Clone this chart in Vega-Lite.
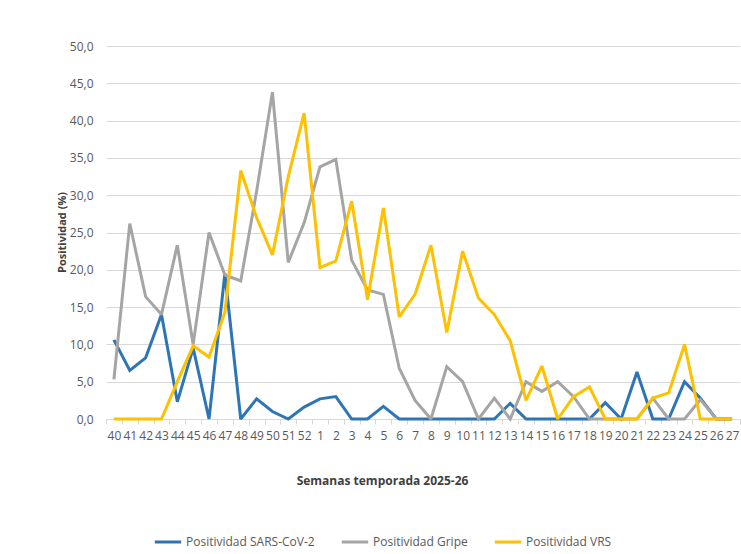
{
  "$schema": "https://vega.github.io/schema/vega-lite/v6.json",
  "width": 634,
  "height": 373,
  "autosize": {"type": "none"},
  "padding": {"left": 106, "top": 46, "right": 1, "bottom": 135},
  "background": "white",
  "config": {
    "font": "Open Sans",
    "view": {"stroke": null},
    "axis": {"labelColor": "#595959", "titleColor": "#404040", "labelFont": "Open Sans", "titleFont": "Open Sans"}
  },
  "data": {
    "values": [
      {"semana": "40", "SARS": 10.6, "Gripe": 5.3, "VRS": 0},
      {"semana": "41", "SARS": 6.5, "Gripe": 26.2, "VRS": 0},
      {"semana": "42", "SARS": 8.2, "Gripe": 16.4, "VRS": 0},
      {"semana": "43", "SARS": 14.0, "Gripe": 14.0, "VRS": 0},
      {"semana": "44", "SARS": 2.3, "Gripe": 23.3, "VRS": 5.0},
      {"semana": "45", "SARS": 9.5, "Gripe": 10.0, "VRS": 9.8},
      {"semana": "46", "SARS": 0, "Gripe": 25.0, "VRS": 8.3},
      {"semana": "47", "SARS": 19.5, "Gripe": 19.3, "VRS": 14.3},
      {"semana": "48", "SARS": 0, "Gripe": 18.5, "VRS": 33.3},
      {"semana": "49", "SARS": 2.7, "Gripe": 30.5, "VRS": 27.0},
      {"semana": "50", "SARS": 1.0, "Gripe": 43.8, "VRS": 22.0},
      {"semana": "51", "SARS": 0, "Gripe": 21.0, "VRS": 32.5},
      {"semana": "52", "SARS": 1.6, "Gripe": 26.3, "VRS": 41.0},
      {"semana": "1", "SARS": 2.7, "Gripe": 33.8, "VRS": 20.3},
      {"semana": "2", "SARS": 3.0, "Gripe": 34.8, "VRS": 21.2},
      {"semana": "3", "SARS": 0, "Gripe": 21.3, "VRS": 29.2},
      {"semana": "4", "SARS": 0, "Gripe": 17.3, "VRS": 16.0},
      {"semana": "5", "SARS": 1.7, "Gripe": 16.7, "VRS": 28.3},
      {"semana": "6", "SARS": 0, "Gripe": 6.8, "VRS": 13.7},
      {"semana": "7", "SARS": 0, "Gripe": 2.5, "VRS": 16.7},
      {"semana": "8", "SARS": 0, "Gripe": 0, "VRS": 23.3},
      {"semana": "9", "SARS": 0, "Gripe": 7.0, "VRS": 11.6},
      {"semana": "10", "SARS": 0, "Gripe": 5.0, "VRS": 22.5},
      {"semana": "11", "SARS": 0, "Gripe": 0, "VRS": 16.2},
      {"semana": "12", "SARS": 0, "Gripe": 2.8, "VRS": 14.0},
      {"semana": "13", "SARS": 2.1, "Gripe": 0, "VRS": 10.5},
      {"semana": "14", "SARS": 0, "Gripe": 5.0, "VRS": 2.5},
      {"semana": "15", "SARS": 0, "Gripe": 3.7, "VRS": 7.1},
      {"semana": "16", "SARS": 0, "Gripe": 5.0, "VRS": 0},
      {"semana": "17", "SARS": 0, "Gripe": 3.0, "VRS": 3.0},
      {"semana": "18", "SARS": 0, "Gripe": 0, "VRS": 4.3},
      {"semana": "19", "SARS": 2.2, "Gripe": 0, "VRS": 0},
      {"semana": "20", "SARS": 0, "Gripe": 0, "VRS": 0},
      {"semana": "21", "SARS": 6.3, "Gripe": 0, "VRS": 0},
      {"semana": "22", "SARS": 0, "Gripe": 2.8, "VRS": 2.8},
      {"semana": "23", "SARS": 0, "Gripe": 0, "VRS": 3.5},
      {"semana": "24", "SARS": 5.0, "Gripe": 0, "VRS": 10.0},
      {"semana": "25", "SARS": 2.8, "Gripe": 2.6, "VRS": 0},
      {"semana": "26", "SARS": 0, "Gripe": 0, "VRS": 0},
      {"semana": "27", "SARS": 0, "Gripe": 0, "VRS": 0}
    ]
  },
  "transform": [
    {"fold": ["SARS", "Gripe", "VRS"], "as": ["clave", "valor"]},
    {"lookup": "clave", "from": {"data": {"values": [
      {"clave": "SARS", "serie": "Positividad SARS-CoV-2", "orden": 1},
      {"clave": "Gripe", "serie": "Positividad Gripe", "orden": 2},
      {"clave": "VRS", "serie": "Positividad VRS", "orden": 3}
    ]}, "key": "clave", "fields": ["serie", "orden"]}}
  ],
  "mark": {"type": "line", "strokeWidth": 3, "strokeJoin": "miter", "strokeMiterLimit": 2},
  "encoding": {
    "x": {
      "field": "semana",
      "type": "ordinal",
      "bandPosition": 0.5,
      "sort": ["40","41","42","43","44","45","46","47","48","49","50","51","52","1","2","3","4","5","6","7","8","9","10","11","12","13","14","15","16","17","18","19","20","21","22","23","24","25","26","27"],
      "scale": {"type": "band", "paddingInner": 0, "paddingOuter": 0},
      "axis": {
        "title": "Semanas temporada 2025-26",
        "titleFontSize": 12,
        "titleFontWeight": "bold",
        "titleX": 276,
        "titleY": 61,
        "titleAlign": "center",
        "titleBaseline": "middle",
        "labelAngle": 0,
        "labelFontSize": 12,
        "labelPadding": 6,
        "tickBand": "extent",
        "tickColor": "#D9D9D9",
        "tickSize": 5,
        "domainColor": "#D9D9D9",
        "grid": false
      }
    },
    "y": {
      "field": "valor",
      "type": "quantitative",
      "scale": {"domain": [0, 50], "nice": false},
      "axis": {
        "title": "Positividad (%)",
        "titleFontSize": 11,
        "titleFontWeight": "bold",
        "titleX": -44,
        "titleY": 186,
        "titleAlign": "center",
        "titleBaseline": "middle",
        "values": [0,5,10,15,20,25,30,35,40,45,50],
        "labelExpr": "replace(format(datum.value, '.1f'), '.', ',')",
        "labelFontSize": 12,
        "labelPadding": 13,
        "ticks": false,
        "domain": false,
        "gridColor": "#D9D9D9",
        "gridWidth": 1
      }
    },
    "color": {
      "field": "serie",
      "type": "nominal",
      "sort": ["Positividad SARS-CoV-2", "Positividad Gripe", "Positividad VRS"],
      "scale": {
        "domain": ["Positividad SARS-CoV-2", "Positividad Gripe", "Positividad VRS"],
        "range": ["#2E75B6", "#A5A5A5", "#FFC000"]
      },
      "legend": {
        "title": null,
        "orient": "none",
        "direction": "horizontal",
        "legendX": 47,
        "legendY": 481,
        "symbolType": "stroke",
        "symbolStrokeWidth": 3,
        "symbolSize": 700,
        "labelFontSize": 12,
        "labelColor": "#595959",
        "columnPadding": 20,
        "labelOffset": 3
      }
    },
    "order": {"field": "orden"}
  }
}
